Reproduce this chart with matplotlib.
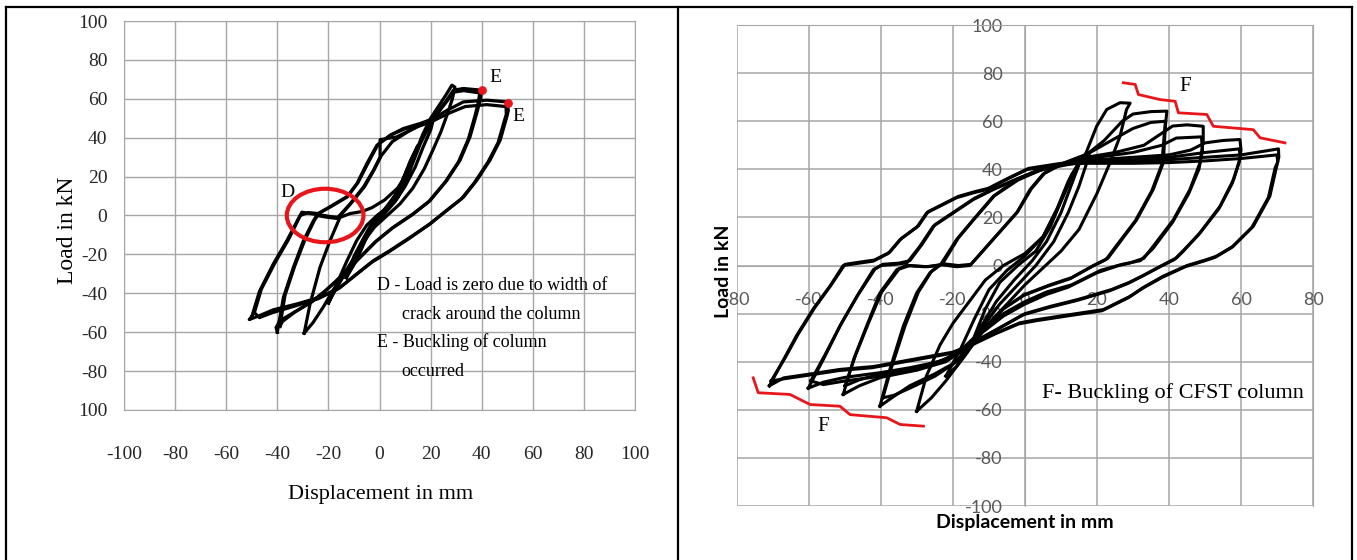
import matplotlib.pyplot as plt
from matplotlib.patches import Ellipse
from matplotlib.lines import Line2D

# ---------------- left panel: load-displacement loops (RC column) ----------------
left_loop_50 = [(-50, -52), (-47, -39), (-41.6, -25), (-36.3, -13), (-31.5, -1), (-30.4, 1.7),
                (-27, 1), (-24.6, 0.5), (-19.4, 4.3), (-12.8, 9.4), (-8.9, 16.3), (-5, 26.6),
                (-1.1, 36), (4.1, 41.2), (9.3, 44.7), (15.9, 47.3), (21, 49.8), (26.3, 54),
                (32.8, 58.4), (42, 59.3), (49.8, 58.4), (50.4, 54), (49.8, 50.7), (47.2, 38.7),
                (43.2, 28.4), (38, 18), (32.8, 9.4), (26.3, 2.6), (19.8, -4.3), (12, -11.2),
                (4.1, -18), (-2.4, -23.2), (-8.9, -30), (-15.5, -37), (-23.3, -42), (-32.4, -45.5),
                (-41.6, -48.5), (-47, -51.5), (-51, -53.5), (-50, -52)]
left_loop_50b = [(-49, -50), (-46.3, -38), (-41, -24.5), (-35.7, -12.5), (-31, 0), (-28, 1.5),
                 (-24, 1), (-19, 4.8), (-12.4, 10), (-8.4, 17), (-4.5, 27), (-0.6, 36.5), (4.5, 41.5),
                 (9.8, 44.5), (16.3, 47), (21.5, 49), (27, 52.5), (33.5, 56), (42, 57), (49.5, 56),
                 (49.6, 52), (48.8, 48.5), (46.4, 37.5), (42.4, 27.4), (37.2, 17), (32, 8.5),
                 (25.5, 1.8), (19, -5), (11.4, -12), (3.5, -18.8), (-3, -24), (-9.5, -30.8),
                 (-16, -37.6), (-24, -42.8), (-33, -46.5), (-42, -50), (-47, -52.5), (-49, -50)]
left_loop_40 = [(-40, -60), (-37.6, -42), (-33.7, -26.6), (-29.8, -13), (-26, -3), (-24.6, 0),
                (-20, -1), (-16.7, -1.5), (-11.5, 6), (-6.3, 14.6), (-2.4, 23.2), (0.2, 30),
                (0.2, 39), (6.7, 40.4), (14.5, 45.5), (19.8, 48), (22.3, 52.4), (26.3, 59.3),
                (28.9, 64.4), (32.8, 65.3), (40, 64.4), (39.4, 59.3), (38, 52.4), (35.4, 40.4),
                (31.5, 28.4), (26.3, 18), (19.8, 7.7), (13.2, 0.9), (5.4, -6), (-1.1, -13),
                (-6.3, -19.8), (-11.5, -26.7), (-16.8, -33.5), (-21, -38.5), (-26, -43.8),
                (-32.4, -49), (-38.9, -54), (-40.5, -57.6), (-40, -60)]
left_loop_40b = [(-39, -57), (-37, -41), (-33.2, -26), (-29.2, -12.5), (-25.5, -2.5), (-24, 0.5),
                 (-19.5, -0.5), (-16, -1), (-11, 6.5), (-5.8, 15), (-2, 23.8), (0.6, 30.6), (5, 38),
                 (11, 43), (16, 46.5), (20.5, 48.5), (23, 53), (26.8, 59.5), (29.2, 63.5), (33, 64.2),
                 (39.2, 63), (38.7, 58.5), (37.4, 51.5), (34.8, 39.5), (30.9, 27.6), (25.7, 17.2),
                 (19.2, 7), (12.6, 0.2), (4.8, -6.7), (-1.7, -13.6), (-6.9, -20.5), (-12.1, -27.4),
                 (-17.4, -34.2), (-21.6, -39.2), (-26.6, -44.5), (-33, -49.5), (-38, -54.5), (-39, -57)]
left_loop_30 = [(-29.5, -60.5), (-27.2, -45.5), (-23.3, -26.6), (-19.4, -13), (-15.5, -1),
                (-11.5, 1), (-7, 2), (-3, 4), (2, 8), (7, 14), (11, 22), (14, 32), (17, 42),
                (20, 50), (23, 56), (26, 62), (28.3, 67), (29.5, 66), (28.5, 60), (26.5, 52),
                (24, 43), (21, 34), (17.5, 24), (13, 14), (8, 6), (3, 0), (-2, -6), (-6, -13),
                (-10, -22), (-14, -30), (-18, -38), (-22, -47), (-26, -55), (-29.5, -60.5)]
left_loop_20 = [(-20, -45), (-17, -36), (-13, -24), (-9, -13), (-5, -5), (-1, 0), (3, 4), (7, 9),
                (10, 17), (13, 27), (16, 37), (19, 45), (21, 49), (20, 44), (17, 35), (14, 25),
                (10, 15), (6, 7), (2, 1), (-2, -5), (-6, -13), (-10, -22), (-14, -31), (-18, -40),
                (-20, -45)]
left_loop_10 = [(-13, -32), (-10, -21), (-6, -11), (-3, -4), (0, 0), (3, 4), (6, 10), (9, 18),
                (12, 28), (15, 36), (13, 30), (10, 21), (7, 12), (3, 5), (0, 0), (-3, -6), (-6, -14),
                (-9, -23), (-13, -32)]
left_buckling_x = [40, 50.4]
left_buckling_y = [64.4, 57.6]
left_ticks = [-100, -80, -60, -40, -20, 0, 20, 40, 60, 80, 100]
left_xlabels = ['-100', '-80', '-60', '-40', '-20', '0', '20', '40', '60', '80', '100']
left_ylabels = ['100', '-80', '-60', '-40', '-20', '0', '20', '40', '60', '80', '100']

# ---------------- right panel: load-displacement loops (CFST column) ----------------
right_loop_70 = [(-71, -50), (-67, -39), (-63.4, -29), (-58.8, -18), (-54.2, -8.6), (-50.5, 0),
                 (-46, 1), (-42.2, 1.8), (-38, 5), (-34.7, 10.8), (-30, 16), (-27.3, 21.9),
                 (-19, 28.2), (-14.4, 30.2), (-10.6, 31.6), (-5.1, 35.8), (0.5, 39.9), (10, 42),
                 (20, 43), (30, 43), (40, 44), (50, 45), (60, 46), (70.4, 48.5), (70.5, 45),
                 (69.9, 41.3), (68, 28.8), (63.4, 16.3), (57.8, 8), (53.2, 3.9), (50.5, 2.5),
                 (45, 0), (38.4, -4.4), (33, -9), (29.2, -12.8), (21.8, -18.3), (12.5, -20.4),
                 (3.3, -22.5), (-1.4, -23.8), (-8, -28), (-15, -33), (-20, -36), (-29.2, -38.5),
                 (-42.1, -42), (-51.4, -43.2), (-60.6, -45.3), (-67, -46.7), (-71, -50)]
right_loop_70b = [(-70.5, -48), (-66.5, -38), (-63, -28.5), (-58.4, -17.5), (-53.8, -8), (-50, 0.5),
                  (-45.5, 1.5), (-41.8, 2.3), (-37.6, 5.5), (-34.3, 11.3), (-29.6, 16.5),
                  (-26.9, 22.4), (-18.6, 28.7), (-14, 30.7), (-10.2, 32.1), (-4.7, 36.3), (1, 40.4),
                  (10, 42.5), (20, 42.5), (30, 42.5), (40, 42.8), (50, 43.5), (60, 44.5), (70, 46),
                  (70.2, 43), (69.5, 40.8), (67.6, 28.3), (63, 15.8), (57.4, 7.5), (52.8, 3.4),
                  (50, 2), (44.5, -0.5), (38, -5), (32.6, -9.5), (28.8, -13.3), (21.4, -18.8),
                  (12.1, -20.9), (2.9, -23), (-1.8, -24.3), (-8.4, -28.5), (-15.4, -33.5),
                  (-20.4, -36.5), (-29.6, -39), (-42.5, -42.5), (-51.8, -43.7), (-61, -45.8),
                  (-67.4, -47.2), (-70.5, -48)]
right_loop_60 = [(-60.2, -51), (-56, -39), (-51.4, -25.2), (-46.7, -12.8), (-42.1, -1.7), (-40, 0),
                 (-36, 0.5), (-32.8, 1.1), (-29.2, 8), (-25.5, 16.3), (-19.9, 21.9), (-14.4, 27.4),
                 (-8.8, 31.6), (-2.3, 35.8), (5, 40), (12, 42), (20, 44), (30, 45), (40, 46),
                 (46, 48), (50, 51), (55, 52), (59.7, 52.4), (60, 48), (59.5, 43), (58, 36),
                 (54.2, 24.7), (48.6, 13.6), (44, 6), (42.1, 3.2), (38, 0), (33, -4), (29, -7),
                 (24, -10), (15, -14), (7, -17), (0, -20), (-6, -25), (-12, -30), (-18, -36),
                 (-24, -40), (-32, -42.5), (-40, -44.5), (-50, -46.5), (-56, -48.5), (-60.2, -51)]
right_loop_60b = [(-59.5, -48), (-55.5, -37), (-51, -24), (-46.3, -12), (-41.7, -1.5), (-39.5, 0.5),
                  (-35, 1), (-32, 2), (-28.5, 9), (-25, 17), (-19.5, 22.5), (-14, 28), (-8.5, 32),
                  (-2, 36.2), (5, 40.3), (12, 42.3), (20, 43.5), (30, 44), (40, 45), (50, 47),
                  (59.5, 48.5), (59.8, 45), (59, 41), (57.5, 34), (53.8, 23.5), (48.2, 12.8),
                  (43.5, 5.5), (41.5, 2.5), (37.5, -0.5), (32.5, -4.5), (28.5, -7.5), (23.5, -10.5),
                  (14.5, -14.5), (6.5, -17.5), (-0.5, -20.5), (-6.5, -25.5), (-12.5, -30.5),
                  (-18.5, -36.5), (-24.5, -40.5), (-32, -43.5), (-40, -46), (-50, -48),
                  (-56, -49.5), (-59.5, -48)]
right_loop_50 = [(-50.5, -53.6), (-47.6, -39), (-44, -25.2), (-40.3, -11.4), (-35.6, -1.7),
                 (-33, 0), (-28, -0.5), (-23.6, 0), (-19, 10.8), (-14.4, 19), (-8.8, 28.8),
                 (-2.3, 35.8), (4, 40), (12, 43), (17, 45), (25, 47), (33, 50), (38, 55), (41, 58),
                 (45, 58.5), (49.5, 57.9), (49.5, 52), (48.6, 42.7), (45.8, 31.6), (41.2, 19),
                 (35.6, 8), (33, 3), (29, 1), (26, 0), (20, -3), (12, -9), (6, -12), (0, -16),
                 (-6, -21), (-12, -28), (-17, -35), (-22, -40), (-30, -43.5), (-40, -46.5),
                 (-46, -50), (-50.5, -53.6)]
right_loop_50b = [(-50, -50), (-47, -37), (-43.5, -24), (-39.8, -11), (-35, -1.5), (-32, 0),
                  (-27, -0.5), (-23, 0.5), (-18.5, 11.5), (-14, 19.5), (-8.5, 29), (-2, 35.5),
                  (4, 39.5), (12, 42.5), (20, 45), (30, 47), (38, 50), (42, 53), (49, 53.5),
                  (49.3, 48), (48.3, 40), (45.5, 30), (41, 18), (35.5, 7), (32, 2), (27, 0.5),
                  (21, -2), (13, -8), (6, -11), (0, -15), (-6, -20), (-12, -27), (-17, -34),
                  (-22, -39), (-30, -42.5), (-40, -45), (-46, -47.5), (-50, -50)]
right_loop_40 = [(-40.3, -58.5), (-37.5, -43), (-33.8, -25.2), (-30.1, -11.4), (-26.4, -3),
                 (-23.6, 0.4), (-19, -0.5), (-15.3, 0), (-8.9, 10.8), (-2.3, 21.9), (1.4, 31.6),
                 (5, 38), (10, 42), (17, 46), (22, 52), (27, 60), (30, 63), (35, 64), (39.4, 64.2),
                 (39, 58), (38.4, 42.7), (35.6, 31.6), (31, 19), (25.5, 8), (23, 3), (19, 0),
                 (13, -5), (7, -8), (0, -12), (-6, -18), (-11, -26), (-15, -33), (-19, -40),
                 (-25, -45), (-32, -50), (-37, -55), (-40.3, -58.5)]
right_loop_40b = [(-39.5, -55), (-37, -42), (-33.3, -25), (-29.6, -11), (-26, -2.5), (-23, 0.8),
                  (-18.5, 0), (-15, 0.5), (-8.5, 11.5), (-2, 22.5), (1.8, 32), (5.5, 38.5),
                  (10.5, 42.5), (17.5, 46.5), (24, 52), (30, 57), (35, 59.5), (39, 60), (38.7, 55),
                  (38, 42), (35.2, 31), (30.6, 18.5), (25, 7.5), (22.5, 2.5), (18.5, -0.5),
                  (12.5, -5.5), (6.5, -8.5), (-0.5, -12.5), (-6.5, -18.5), (-11.5, -26.5),
                  (-15.5, -33.5), (-19.5, -40.5), (-25, -46), (-32, -51), (-36.5, -54), (-39.5, -55)]
right_loop_30 = [(-30.1, -60.6), (-27.4, -46), (-23.6, -33), (-20, -24), (-15, -14), (-11, -6),
                 (-6, 0), (0, 5), (5, 12), (8, 20), (11, 30), (14, 40), (17, 47), (19.9, 57.9),
                 (22.7, 64.9), (26.4, 67.7), (29.2, 67.5), (28.2, 64.9), (26.4, 53.8), (23.6, 42.7),
                 (20, 30), (15, 15), (10, 6), (5, -1), (0, -8), (-5, -16), (-10, -24), (-14, -32),
                 (-18, -40), (-22, -48), (-26, -55), (-30.1, -60.6)]
right_loop_20 = [(-22, -46), (-18, -35), (-14, -22), (-10, -10), (-5, -2), (0, 4), (5, 12), (9, 24),
                 (12, 35), (15, 43), (18, 47), (17, 42), (15, 33), (12, 22), (8, 10), (3, 0),
                 (-2, -8), (-7, -16), (-12, -26), (-16, -36), (-19, -42), (-22, -46)]
right_loop_10 = [(-15, -33), (-11, -18), (-7, -7), (-2, 0), (3, 6), (7, 16), (10, 27), (13, 38),
                 (15, 42), (13, 34), (10, 22), (6, 10), (2, 2), (-3, -6), (-8, -15), (-12, -25),
                 (-15, -33)]
# red marks drawn on the figure where the column buckled
buckle_top = [(27.3, 76), (30.6, 75.3), (31.5, 71.1), (37.5, 69), (41.7, 68.3), (42.6, 63.5),
              (50.5, 62.8), (52.3, 57.9), (63.4, 56.5), (65.3, 53.1), (72.2, 51)]
buckle_bottom = [(-75.5, -46.7), (-74.1, -52.9), (-65.3, -53.6), (-59.7, -57.8), (-51.4, -58.5),
                 (-48.6, -62), (-38.4, -63.3), (-34.7, -66.1), (-28.2, -66.8)]
right_xticks = [-80, -60, -40, -20, 0, 20, 40, 60, 80]
right_yticks = [-100, -80, -60, -40, -20, 0, 20, 40, 60, 80, 100]

GRID = '#a6a6a6'
SERIF = 'Liberation Serif'

fig = plt.figure(figsize=(13.57, 5.6), dpi=100)

# table frame around the two figures
for x0, y0, x1, y1 in [(0.0045, 0.0, 0.0045, 0.9875), (0.4996, 0.0, 0.4996, 0.9875),
                       (0.9963, 0.0, 0.9963, 0.9875), (0.0045, 0.9875, 0.9963, 0.9875)]:
    fig.add_artist(Line2D([x0, x1], [y0, y1], transform=fig.transFigure, color='black', lw=1.6))

# ---- left chart
ax1 = fig.add_axes([0.0914, 0.2679, 0.3766, 0.6946])
ax1.set_axisbelow(True)
for loop in [left_loop_50, left_loop_50b, left_loop_40, left_loop_40b,
             left_loop_30, left_loop_20, left_loop_10]:
    xs, ys = zip(*loop)
    ax1.plot(xs, ys, color='black', lw=2.3, solid_joinstyle='round', zorder=3)
ax1.scatter(left_buckling_x, left_buckling_y, s=28, color='#e8161b', zorder=4)
ax1.add_patch(Ellipse((-21.3, 0), 30, 27.5, fill=False, edgecolor='#e8161b', lw=3, zorder=4))
ax1.text(-36, 12, 'D', fontsize=14, family=SERIF, ha='center', va='center')
ax1.text(45.5, 71, 'E', fontsize=14, family=SERIF, ha='center', va='center')
ax1.text(54.5, 51, 'E', fontsize=14, family=SERIF, ha='center', va='center')
ax1.text(-1, -36, 'D - Load is zero due to width of', fontsize=13, family=SERIF, va='center')
ax1.text(8.7, -50.7, 'crack around the column', fontsize=13, family=SERIF, va='center')
ax1.text(-1, -65.3, 'E - Buckling of column', fontsize=13, family=SERIF, va='center')
ax1.text(8.7, -80, 'occurred', fontsize=13, family=SERIF, va='center')

ax1.set_xlim(-100, 100)
ax1.set_ylim(-100, 100)
ax1.set_xticks(left_ticks)
ax1.set_xticklabels(left_xlabels, family=SERIF, fontsize=14, color='#262626')
ax1.set_yticks(left_ticks)
ax1.set_yticklabels(left_ylabels, family=SERIF, fontsize=14, color='#262626')
ax1.tick_params(axis='x', length=0, pad=26)
ax1.tick_params(axis='y', length=0, pad=12)
ax1.grid(True, color=GRID, lw=1)
for sp in ax1.spines.values():
    sp.set_color(GRID)
ax1.set_xlabel('Displacement in mm', family=SERIF, fontsize=16, va='center')
ax1.xaxis.set_label_coords(0.501, -0.2185)
ax1.set_ylabel('Load in kN', family=SERIF, fontsize=17, va='center')
ax1.yaxis.set_label_coords(-0.11, 0.463)

# ---- right chart
ax2 = fig.add_axes([0.5431, 0.0964, 0.4245, 0.8589])
ax2.set_axisbelow(True)
# axes cross at the origin (set before the tick labels, it resets the ticks)
ax2.spines['bottom'].set_position(('data', 0))
ax2.spines['left'].set_position(('data', 0))
for sp in ax2.spines.values():
    sp.set_color(GRID)
for loop in [right_loop_70, right_loop_70b, right_loop_60, right_loop_60b, right_loop_50,
             right_loop_50b, right_loop_40, right_loop_40b, right_loop_30, right_loop_20,
             right_loop_10]:
    xs, ys = zip(*loop)
    ax2.plot(xs, ys, color='black', lw=2.2, solid_joinstyle='round', zorder=3)
for mark in [buckle_top, buckle_bottom]:
    xs, ys = zip(*mark)
    ax2.plot(xs, ys, color='#e8161b', lw=2, zorder=4)
ax2.text(44.4, 74.6, 'F', fontsize=15, family=SERIF, ha='center', va='center')
ax2.text(-56, -66.8, 'F', fontsize=15, family=SERIF, ha='center', va='center')
ax2.text(4.6, -52.9, 'F- Buckling of CFST column', fontsize=16, family=SERIF, va='center')

ax2.set_xlim(-80, 80)
ax2.set_ylim(-100, 100)
ax2.set_xticks(right_xticks)
ax2.set_xticklabels([str(v) for v in right_xticks], family='Lato', fontsize=13, color='#595959')
ax2.set_yticks(right_yticks)
ax2.set_yticklabels([str(v) for v in right_yticks], family='Lato', fontsize=13, color='#595959')
ax2.tick_params(axis='x', length=0, pad=19)
ax2.tick_params(axis='y', length=0, pad=16)
ax2.grid(True, color=GRID, lw=1.1)
ax2.set_xlabel('Displacement in mm', family='Lato', fontweight='bold', fontsize=14, va='center')
ax2.xaxis.set_label_coords(0.5, -0.035)
ax2.set_ylabel('Load in kN', family='Lato', fontweight='bold', fontsize=14, va='center')
ax2.yaxis.set_label_coords(-0.024, 0.489)

fig.savefig('out.png', dpi=100)
